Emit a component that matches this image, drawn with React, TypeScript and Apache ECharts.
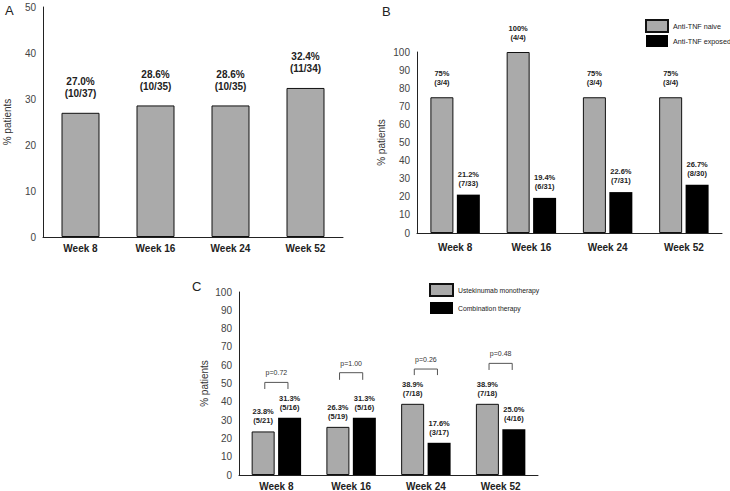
import React, { useEffect, useRef } from "react";
import * as echarts from "echarts";

const weeks = ["Week 8", "Week 16", "Week 24", "Week 52"];

const overallPct = [27.0, 28.6, 28.6, 32.4];
const overallFrac = ["10/37", "10/35", "10/35", "11/34"];

const naivePct = [75, 100, 75, 75];
const naiveFrac = ["3/4", "4/4", "3/4", "3/4"];
const exposedPct = [21.2, 19.4, 22.6, 26.7];
const exposedFrac = ["7/33", "6/31", "7/31", "8/30"];

const monoPct = [23.8, 26.3, 38.9, 38.9];
const monoFrac = ["5/21", "5/19", "7/18", "7/18"];
const comboPct = [31.3, 31.3, 17.6, 25.0];
const comboFrac = ["5/16", "5/16", "3/17", "4/16"];

const pValues = ["p=0.72", "p=1.00", "p=0.26", "p=0.48"];
const bracketTop = [50.6, 55.9, 57.9, 61];
const bracketBottom = [47, 52, 54.6, 57.4];

const FONT = "'Liberation Sans', Arial, Helvetica, sans-serif";
const GRAY = "#aaaaaa";
const DARK = "#222222";

function makeLabel(frac: string[], decimals: number, fontSize: number, lineHeight: number, distance: number) {
  return {
    show: true,
    position: "top" as const,
    distance,
    fontFamily: FONT,
    fontSize,
    lineHeight,
    fontWeight: "bold" as const,
    color: DARK,
    formatter: (p: any) => `${Number(p.value).toFixed(decimals)}%\n(${frac[p.dataIndex]})`,
  };
}

function yAxisCfg(gridIndex: number, max: number, nameGap: number) {
  return {
    type: "value" as const,
    gridIndex,
    min: 0,
    max,
    interval: 10,
    name: "% patients",
    nameLocation: "middle" as const,
    nameGap,
    nameTextStyle: { fontFamily: FONT, fontSize: 10, color: "#333" },
    axisLine: { show: true, lineStyle: { color: DARK, width: 1 } },
    axisTick: { show: false },
    splitLine: { show: false },
    axisLabel: { fontFamily: FONT, fontSize: 10, color: "#444", margin: 7 },
  };
}

function xAxisCfg(gridIndex: number, margin: number) {
  return {
    type: "category" as const,
    gridIndex,
    data: weeks,
    axisLine: { show: true, lineStyle: { color: DARK, width: 1 } },
    axisTick: { show: false },
    axisLabel: { fontFamily: FONT, fontSize: 10, fontWeight: "bold" as const, color: DARK, margin },
  };
}

export default function App() {
  const ref = useRef<HTMLDivElement>(null);

  useEffect(() => {
    if (!ref.current) return;
    const chart = echarts.init(ref.current, null, { renderer: "svg" });

    const grayStyle = { color: GRAY, borderColor: "#111", borderWidth: 1 };
    const blackStyle = { color: "#000000" };

    const option: any = {
      animation: false,
      backgroundColor: "#ffffff",
      textStyle: { fontFamily: FONT },
      grid: [
        { left: 43, right: 387, top: 7, bottom: 254 },
        { left: 417, right: 8, top: 52, bottom: 258 },
        { left: 239, right: 192, top: 292, bottom: 16 },
      ],
      xAxis: [xAxisCfg(0, 6), xAxisCfg(1, 9), xAxisCfg(2, 6)],
      yAxis: [yAxisCfg(0, 50, 31), yAxisCfg(1, 100, 31), yAxisCfg(2, 100, 30)],
      legend: [
        {
          data: ["Anti-TNF naive", "Anti-TNF exposed"],
          orient: "vertical",
          left: 645,
          top: 19,
          padding: 0,
          itemWidth: 22,
          itemHeight: 12,
          itemGap: 2,
          selectedMode: false,
          icon: "rect",
          textStyle: { fontFamily: FONT, fontSize: 7.2, color: DARK },
        },
        {
          data: ["Ustekinumab monotherapy", "Combination therapy"],
          orient: "vertical",
          left: 429,
          top: 283,
          padding: 0,
          itemWidth: 23,
          itemHeight: 12,
          itemGap: 5,
          selectedMode: false,
          icon: "rect",
          textStyle: { fontFamily: FONT, fontSize: 6.8, color: DARK },
        },
      ],
      graphic: [
        { type: "text", left: 5, top: 4, style: { text: "A", fontFamily: FONT, fontSize: 13, fill: DARK } },
        { type: "text", left: 382, top: 5, style: { text: "B", fontFamily: FONT, fontSize: 13, fill: DARK } },
        { type: "text", left: 192, top: 280, style: { text: "C", fontFamily: FONT, fontSize: 13, fill: DARK } },
      ],
      series: [
        {
          name: "Overall",
          type: "bar",
          xAxisIndex: 0,
          yAxisIndex: 0,
          data: overallPct,
          barWidth: 38,
          itemStyle: grayStyle,
          label: makeLabel(overallFrac, 1, 10, 12, 13),
        },
        {
          name: "Anti-TNF naive",
          type: "bar",
          xAxisIndex: 1,
          yAxisIndex: 1,
          data: naivePct,
          barWidth: 23,
          barGap: "15%",
          itemStyle: grayStyle,
          label: makeLabel(naiveFrac, 0, 7.5, 9, 10),
        },
        {
          name: "Anti-TNF exposed",
          type: "bar",
          xAxisIndex: 1,
          yAxisIndex: 1,
          data: exposedPct,
          barWidth: 23,
          barGap: "15%",
          itemStyle: blackStyle,
          label: makeLabel(exposedFrac, 1, 7.5, 9, 7),
        },
        {
          name: "Ustekinumab monotherapy",
          type: "bar",
          xAxisIndex: 2,
          yAxisIndex: 2,
          data: monoPct,
          barWidth: 23,
          barGap: "15%",
          itemStyle: grayStyle,
          label: makeLabel(monoFrac, 1, 7.5, 9, 6),
        },
        {
          name: "Combination therapy",
          type: "bar",
          xAxisIndex: 2,
          yAxisIndex: 2,
          data: comboPct,
          barWidth: 23,
          barGap: "15%",
          itemStyle: blackStyle,
          label: makeLabel(comboFrac, 1, 7.5, 9, 6),
        },
        {
          name: "p-values",
          type: "custom",
          xAxisIndex: 2,
          yAxisIndex: 2,
          clip: false,
          z: 10,
          itemStyle: { color: "#333" },
          encode: { x: 0, y: [1, 2] },
          data: weeks.map((w, i) => [i, bracketTop[i], bracketBottom[i]]),
          renderItem: (params: any, api: any) => {
            const i = api.value(0);
            const top = api.coord([i, api.value(1)]);
            const bot = api.coord([i, api.value(2)]);
            const band = api.size([1, 0])[0];
            const off = band * 0.155;
            const cx = top[0];
            return {
              type: "group",
              children: [
                {
                  type: "polyline",
                  shape: {
                    points: [
                      [cx - off, bot[1]],
                      [cx - off, top[1]],
                      [cx + off, top[1]],
                      [cx + off, bot[1]],
                    ],
                  },
                  style: { stroke: "#555", lineWidth: 1, fill: "none" },
                },
                {
                  type: "text",
                  x: cx,
                  y: top[1] - 6,
                  style: {
                    text: pValues[params.dataIndex],
                    font: `7px ${FONT}`,
                    fill: "#333333",
                    align: "center",
                    verticalAlign: "bottom",
                  },
                },
              ],
            };
          },
        },
      ],
    };

    chart.setOption(option);
    return () => chart.dispose();
  }, []);

  return (
    <div
      ref={ref}
      style={{ position: "absolute", left: 0, top: 0, width: 730, height: 491, background: "#fff" }}
    />
  );
}
